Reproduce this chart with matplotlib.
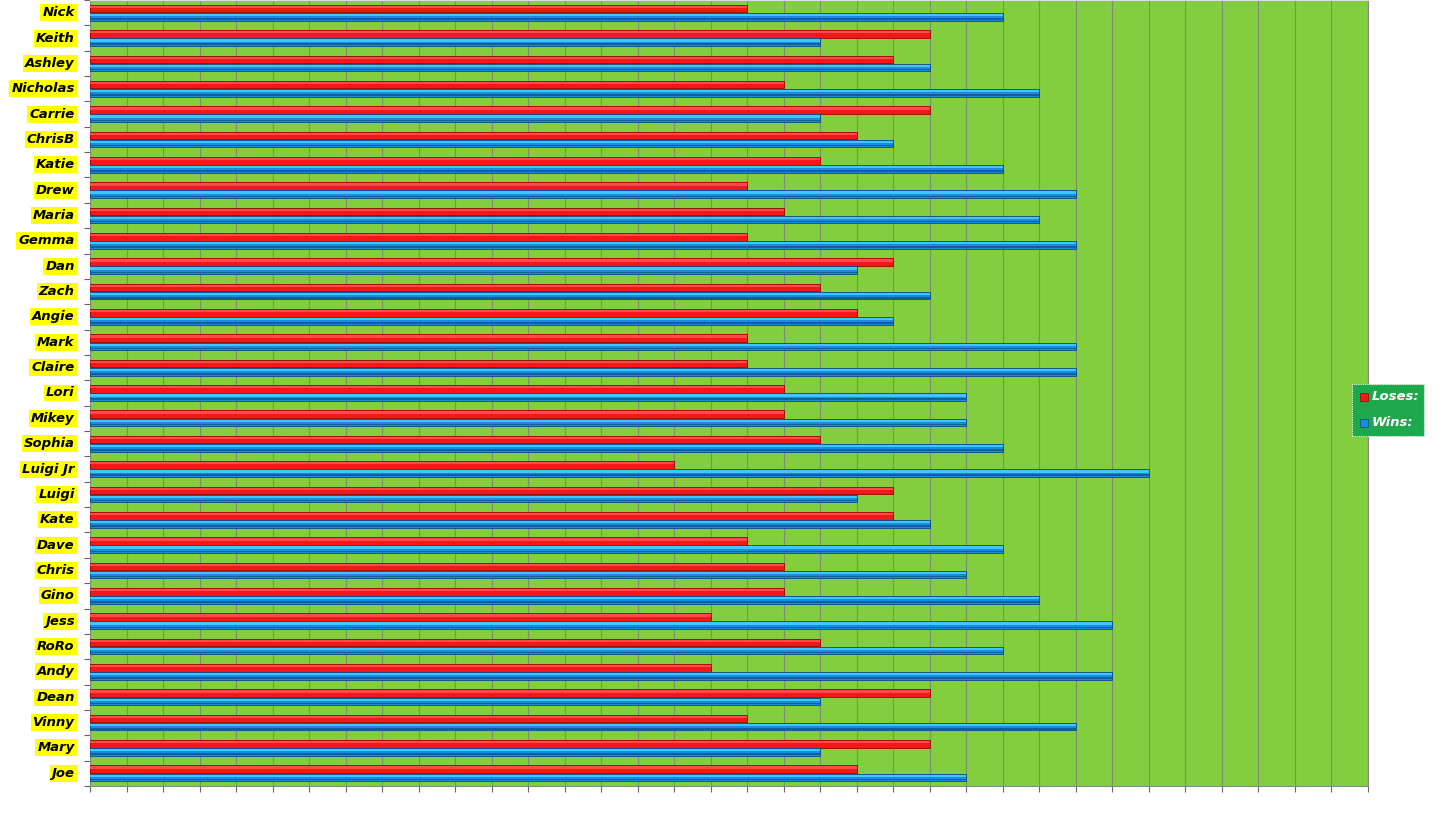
import matplotlib
matplotlib.use("Agg")
import matplotlib.pyplot as plt
import numpy as np
from matplotlib.patches import Rectangle

names = ["Nick", "Keith", "Ashley", "Nicholas", "Carrie", "ChrisB", "Katie", "Drew",
         "Maria", "Gemma", "Dan", "Zach", "Angie", "Mark", "Claire", "Lori", "Mikey",
         "Sophia", "Luigi Jr", "Luigi", "Kate", "Dave", "Chris", "Gino", "Jess", "RoRo",
         "Andy", "Dean", "Vinny", "Mary", "Joe"]
loses = [18, 23, 22, 19, 23, 21, 20, 18, 19, 18, 22, 20, 21, 18, 18, 19, 19, 20, 16,
         22, 22, 18, 19, 19, 17, 20, 17, 23, 18, 23, 21]
wins = [25, 20, 23, 26, 20, 22, 25, 27, 26, 27, 21, 23, 22, 27, 27, 24, 24, 25, 29,
        21, 23, 25, 24, 26, 28, 25, 28, 20, 27, 20, 24]
x_max = 35

W, H = 1443, 824
fig = plt.figure(figsize=(W / 100, H / 100), dpi=100)
fig.patch.set_facecolor("white")
ax = fig.add_axes([90 / W, (H - 786) / H, 1278 / W, 786 / H])
ax.set_facecolor("#82CE3E")

n = len(names)
y = np.arange(n)
h = 0.30
off = 0.16

# Loses (red) with shading
ax.barh(y - off, loses, height=h, color="#F01818", edgecolor="#A00000", linewidth=0.6, zorder=3)
ax.barh(y - off - h * 0.22, loses, height=h * 0.3, color="#FF4A4A", linewidth=0, zorder=4)
# Wins (blue) with shading
ax.barh(y + off, wins, height=h, color="#1C8ADF", edgecolor="#0A4A88", linewidth=0.6, zorder=3)
ax.barh(y + off - h * 0.22, wins, height=h * 0.3, color="#3CC8FF", linewidth=0, zorder=4)
ax.barh(y + off + h * 0.28, wins, height=h * 0.2, color="#10609E", linewidth=0, zorder=4)

ax.set_xlim(0, x_max)
ax.set_ylim(n - 0.5, -0.5)
ax.set_xticks(np.arange(0, x_max + 1, 1))
ax.set_xticklabels([])
ax.grid(axis="x", color="#7A9070", linewidth=0.8, zorder=1)
ax.set_axisbelow(True)
ax.set_yticks(np.arange(n + 1) - 0.5, minor=True)
ax.set_yticks(y)
ax.set_yticklabels([])
ax.tick_params(axis="y", which="major", length=0)
ax.tick_params(axis="y", which="minor", length=4, color="#666666", width=0.8)
ax.tick_params(axis="x", length=4, color="#666666", width=0.8)
for s in ["left", "bottom", "right", "top"]:
    ax.spines[s].set_color("#888888")
    ax.spines[s].set_linestyle((0, (1, 1)))
    ax.spines[s].set_linewidth(0.8)
ax.spines["top"].set_color("#DDDDDD")

for i, name in enumerate(names):
    ax.text(-0.42, i, name, ha="right", va="center", fontsize=9.5, fontweight="bold",
            fontstyle="oblique", family="DejaVu Sans", color="black",
            bbox=dict(boxstyle="square,pad=0.15", facecolor="#FFFF00", edgecolor="none"),
            clip_on=False)

# Legend
lx0, ly0, lw, lh = 1352 / W, (H - 436) / H, 72 / W, 52 / H
fig.patches.append(Rectangle((lx0, ly0), lw, lh, transform=fig.transFigure,
                             facecolor="#1EA84C", edgecolor="#F0F0F0", linewidth=0.8,
                             linestyle=(0, (1, 1)), zorder=5))
fig.patches.append(Rectangle((1360 / W, (H - 401) / H), 8 / W, 8 / H, transform=fig.transFigure,
                             facecolor="#F01818", edgecolor="#A00000", linewidth=0.5, zorder=6))
fig.patches.append(Rectangle((1360 / W, (H - 427) / H), 8 / W, 8 / H, transform=fig.transFigure,
                             facecolor="#1C8ADF", edgecolor="#0A4A88", linewidth=0.5, zorder=6))
fig.text(1372 / W, (H - 397) / H, "Loses:", color="white", fontsize=9.5, fontweight="bold",
         fontstyle="oblique", family="DejaVu Sans", va="center", ha="left", zorder=7)
fig.text(1372 / W, (H - 423) / H, "Wins:", color="white", fontsize=9.5, fontweight="bold",
         fontstyle="oblique", family="DejaVu Sans", va="center", ha="left", zorder=7)

fig.savefig("out.png", dpi=100, facecolor="white")
